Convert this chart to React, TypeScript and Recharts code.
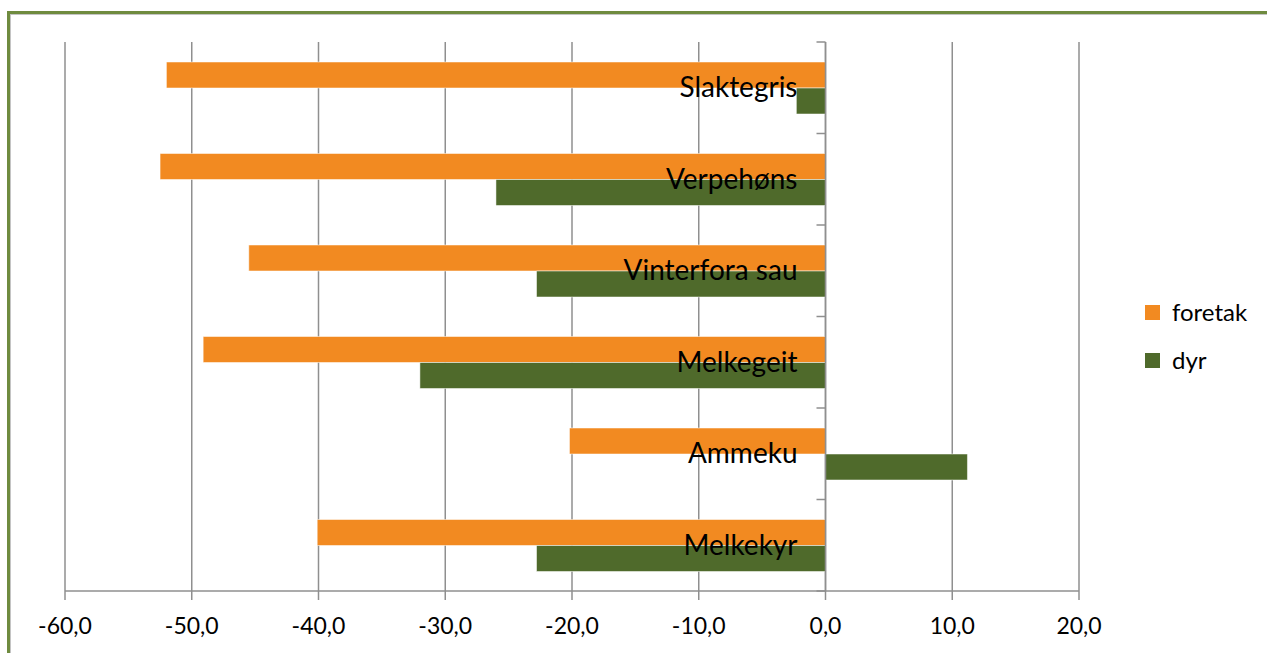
import React from "react";
import {
  BarChart,
  Bar,
  XAxis,
  YAxis,
  CartesianGrid,
  ReferenceLine,
  LabelList,
} from "recharts";

const categories = [
  "Slaktegris",
  "Verpehøns",
  "Vinterfora sau",
  "Melkegeit",
  "Ammeku",
  "Melkekyr",
];
const foretak = [-52.0, -52.5, -45.5, -49.1, -20.2, -40.1];
const dyr = [-2.3, -26.0, -22.8, -32.0, 11.2, -22.8];
const xTicks = [-60, -50, -40, -30, -20, -10, 0, 10, 20];

const ORANGE = "#f28a21";
const GREEN = "#4f6a2b";
const GRAY = "#8f8f8f";
const FONT = "Lato, 'Open Sans', sans-serif";

const W = 1267;
const H = 653;
const M = { top: 42, right: 188, left: 5, bottom: 22 };
const Y_AXIS_W = 60;
const X_AXIS_H = 40;
const PLOT_LEFT = M.left + Y_AXIS_W;
const PLOT_W = W - PLOT_LEFT - M.right;
const PLOT_H = H - M.top - M.bottom - X_AXIS_H;
const X_MIN = xTicks[0];
const X_MAX = xTicks[xTicks.length - 1];
const ZERO_X = PLOT_LEFT + ((0 - X_MIN) / (X_MAX - X_MIN)) * PLOT_W;
const BAND = PLOT_H / categories.length;

const data = categories.map((c, i) => ({
  category: c,
  foretak: foretak[i],
  dyr: dyr[i],
}));

const legendItems = [
  { name: "foretak", color: ORANGE },
  { name: "dyr", color: GREEN },
];

const fmt = (v: number) => v.toFixed(1).replace(".", ",");

function AxisTick(props: any) {
  const { y, index } = props;
  const last = index === categories.length - 1;
  return (
    <g>
      <line x1={ZERO_X - 9} x2={ZERO_X} y1={y - BAND / 2} y2={y - BAND / 2} stroke={GRAY} strokeWidth={1.5} />
      {last && (
        <line x1={ZERO_X - 9} x2={ZERO_X} y1={y + BAND / 2} y2={y + BAND / 2} stroke={GRAY} strokeWidth={1.5} />
      )}
    </g>
  );
}

function CategoryLabel(props: any) {
  const { x, y, width, index, value } = props;
  const v = dyr[index] ?? -1;
  const zero = v < 0 ? Math.max(x, x + width) : Math.min(x, x + width);
  return (
    <text
      x={zero - 28}
      y={y + 9}
      textAnchor="end"
      fontSize={28}
      fontFamily={FONT}
      fill="#000"
    >
      {value}
    </text>
  );
}

function LegendBox() {
  return (
    <div style={{ position: "absolute", left: 1145, top: 300, fontFamily: FONT }}>
      {legendItems.map((it) => (
        <div
          key={it.name}
          style={{ display: "flex", alignItems: "center", height: 24, marginBottom: 24 }}
        >
          <div style={{ width: 15, height: 15, background: it.color, marginRight: 12 }} />
          <span style={{ fontSize: 24, color: "#000", lineHeight: "24px" }}>{it.name}</span>
        </div>
      ))}
    </div>
  );
}

export default function App() {
  return (
    <div>
      <div
        style={{
          position: "absolute",
          left: 7,
          top: 11,
          width: W - 7,
          height: H - 11,
          boxSizing: "border-box",
          borderLeft: "3px solid #6f8b3f",
          borderTop: "3px solid #6f8b3f",
          boxShadow: "inset 1px 1px 0 #c4c4c4",
        }}
      />
      <div style={{ position: "absolute", left: 0, top: 0 }}>
        <BarChart
          width={W}
          height={H}
          data={data}
          layout="vertical"
          margin={M}
          barSize={26}
          barGap={0}
        >
          <CartesianGrid horizontal={false} stroke={GRAY} strokeWidth={1.5} />
          <XAxis
            type="number"
            domain={[X_MIN, X_MAX]}
            ticks={xTicks}
            tickFormatter={fmt}
            height={X_AXIS_H}
            tickSize={9}
            tickMargin={18}
            axisLine={{ stroke: GRAY, strokeWidth: 1.5 }}
            tickLine={{ stroke: GRAY, strokeWidth: 1.5 }}
            tick={{ fill: "#000", fontSize: 23, fontFamily: FONT }}
            allowDataOverflow
          />
          <YAxis
            type="category"
            dataKey="category"
            width={Y_AXIS_W}
            axisLine={false}
            tickLine={false}
            interval={0}
            tick={<AxisTick />}
          />
          <Bar
            dataKey="foretak"
            name="foretak"
            fill={ORANGE}
            stroke="#fff"
            strokeOpacity={0.5}
            isAnimationActive={false}
          />
          <Bar
            dataKey="dyr"
            name="dyr"
            fill={GREEN}
            stroke="#fff"
            strokeOpacity={0.5}
            isAnimationActive={false}
          >
            <LabelList dataKey="category" content={<CategoryLabel />} />
          </Bar>
          <ReferenceLine x={0} stroke={GRAY} strokeWidth={1.5} />
        </BarChart>
      </div>
      <LegendBox />
    </div>
  );
}
